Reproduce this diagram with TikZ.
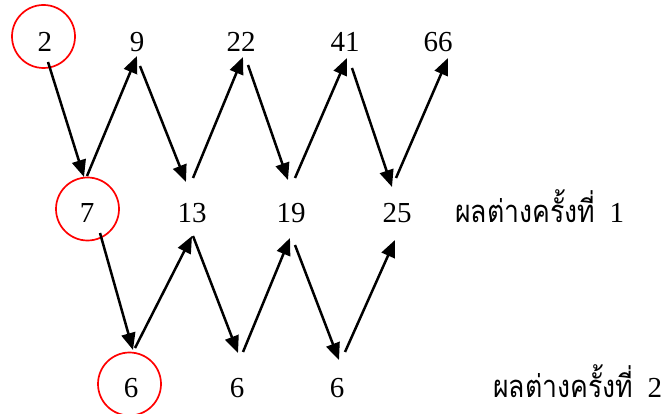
\documentclass[tikz,border=0pt]{standalone}
\usepackage{fontspec}
\setmainfont{Liberation Serif}
\newfontfamily\thaifont[Script=Thai]{Loma}
\usetikzlibrary{arrows.meta,calc}
\newcommand{\thaitxt}[1]{\scalebox{0.86}[1]{\fontsize{31}{36}\selectfont\thaifont #1}}
\begin{document}
\begin{tikzpicture}[x=1pt,y=-1pt,
  num/.style={inner sep=0pt,font=\fontsize{29}{34}\selectfont},
  lbl/.style={inner sep=0pt,anchor=base west,font=\fontsize{29}{34}\selectfont},
  ring/.style={draw=red,line width=1.7pt,circle,minimum size=63pt,inner sep=0pt},
  arr/.style={line width=2.5pt,-{Triangle[length=17pt,width=14pt]}}]
\useasboundingbox (0,0) rectangle (664,414);
% circles
\node[ring] (c1) at (43.5,36.5) {};
\node[ring] (c2) at (87.5,209) {};
\node[ring] (c3) at (129.5,384) {};
% row 1
\node[num] (a1) at (45,42) {2};
\node[num] (a2) at (137,42) {9};
\node[num] (a3) at (241,42) {22};
\node[num] (a4) at (345,42) {41};
\node[num] (a5) at (438,42) {66};
% row 2
\node[num] (b1) at (87,213) {7};
\node[num] (b2) at (192,213) {13};
\node[num] (b3) at (291,213) {19};
\node[num] (b4) at (397,213) {25};
\node[lbl] (t1) at (455,223) {\thaitxt{ผลต่างครั้งที่}\ \ 1};
% row 3
\node[num] (d1) at (131,388) {6};
\node[num] (d2) at (237,388) {6};
\node[num] (d3) at (337,388) {6};
\node[lbl] (t2) at (493,397) {\thaitxt{ผลต่างครั้งที่}\ \ 2};
% arrows row1-row2
\draw[arr] ($(a1)+(3,20)$) -- ($(b1)+(-3,-36)$);
\draw[arr] ($(b1)+(0,-37)$) -- ($(a2)+(0,14)$);
\draw[arr] ($(a2)+(3,24)$) -- ($(b2)+(-6,-31)$);
\draw[arr] ($(b2)+(1,-35)$) -- ($(a3)+(2,15)$);
\draw[arr] ($(a3)+(7,23)$) -- ($(b3)+(-3,-33)$);
\draw[arr] ($(b3)+(4,-35)$) -- ($(a4)+(2,16)$);
\draw[arr] ($(a4)+(7,26)$) -- ($(b4)+(-5,-26)$);
\draw[arr] ($(b4)+(-1,-35)$) -- ($(a5)+(10,16)$);
% arrows row2-row3
\draw[arr] ($(b1)+(13,20)$) -- ($(d1)+(2,-38)$);
\draw[arr] ($(d1)+(4,-40)$) -- ($(b2)+(0,23)$);
\draw[arr] ($(b2)+(1,23)$) -- ($(d2)+(1,-35)$);
\draw[arr] ($(d2)+(6,-36)$) -- ($(b3)+(-1,25)$);
\draw[arr] ($(b3)+(4,32)$) -- ($(d3)+(2,-28)$);
\draw[arr] ($(d3)+(8,-36)$) -- ($(b4)+(-2,27)$);
\end{tikzpicture}
\end{document}
